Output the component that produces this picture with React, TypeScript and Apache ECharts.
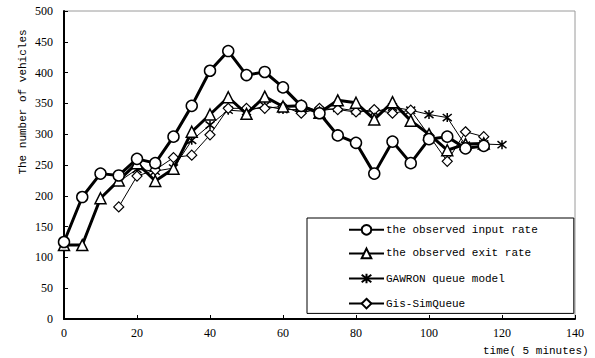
import React, { useEffect, useRef } from "react";
import * as echarts from "echarts";

const inputTime = [0, 5, 10, 15, 20, 25, 30, 35, 40, 45, 50, 55, 60, 65, 70, 75, 80, 85, 90, 95, 100, 105, 110, 115];
const inputRate = [125, 198, 236, 233, 260, 253, 296, 346, 403, 435, 396, 401, 376, 346, 334, 298, 286, 236, 288, 253, 292, 296, 277, 281];

const exitTime = [0, 5, 10, 15, 20, 25, 30, 35, 40, 45, 50, 55, 60, 65, 70, 75, 80, 85, 90, 95, 100, 105, 110, 115];
const exitRate = [120, 120, 196, 225, 253, 224, 244, 304, 332, 360, 333, 361, 345, 346, 335, 355, 351, 324, 352, 322, 300, 274, 284, 285];

const gawronTime = [15, 20, 25, 30, 35, 40, 45, 50, 55, 60, 65, 70, 75, 80, 85, 90, 95, 100, 105, 110, 115, 120];
const gawronModel = [223, 243, 240, 245, 290, 315, 339, 337, 346, 340, 340, 338, 342, 338, 336, 344, 339, 332, 327, 282, 284, 283];

const gisTime = [15, 20, 25, 30, 35, 40, 45, 50, 55, 60, 65, 70, 75, 80, 85, 90, 95, 100, 105, 110, 115];
const gisSimQueue = [182, 232, 242, 262, 266, 299, 342, 342, 342, 345, 334, 342, 340, 336, 340, 334, 339, 298, 256, 304, 296];

const seriesNames = [
  "the observed input rate",
  "the observed exit rate",
  "GAWRON queue model",
  "Gis-SimQueue",
];

const xTitle = "time( 5 minutes)";
const yTitle = "The number of vehicles";

const pairs = (xs: number[], ys: number[]) => xs.map((x, i) => [x, ys[i]]);

const ASTERISK = "path://M5,0L5,10M1,1L9,9M1,9L9,1";

export default function App() {
  const ref = useRef<HTMLDivElement>(null);
  useEffect(() => {
    if (!ref.current) return;
    const chart = echarts.init(ref.current, null, { renderer: "svg" });
    const tickFont = { fontFamily: "Liberation Serif", fontSize: 12, color: "#000" };
    chart.setOption({
      animation: false,
      backgroundColor: "#fff",
      grid: {
        left: 64,
        right: 20,
        top: 11,
        bottom: 39,
        show: true,
        borderColor: "#9a9a9a",
        borderWidth: 1,
      },
      xAxis: {
        type: "value",
        min: 0,
        max: 140,
        interval: 20,
        axisLine: { show: true, lineStyle: { color: "#000", width: 2 } },
        axisTick: { show: true, inside: true, length: 4, lineStyle: { color: "#000" } },
        axisLabel: { ...tickFont, margin: 8 },
        splitLine: { show: false },
      },
      yAxis: {
        type: "value",
        min: 0,
        max: 500,
        interval: 50,
        axisLine: { show: true, lineStyle: { color: "#000", width: 2 } },
        axisTick: { show: true, inside: true, length: 4, lineStyle: { color: "#000" } },
        axisLabel: { ...tickFont, margin: 11 },
        splitLine: { show: false },
      },
      legend: {
        orient: "vertical",
        left: 307,
        top: 218,
        padding: [6, 36, 4, 41],
        itemWidth: 35,
        itemHeight: 12,
        itemGap: 12,
        backgroundColor: "#fff",
        borderColor: "#000",
        borderWidth: 1,
        borderRadius: 0,
        textStyle: { fontFamily: "Liberation Mono", fontSize: 11, color: "#000", padding: [0, 0, 0, -3] },
        data: seriesNames,
      },
      graphic: [
        {
          type: "text",
          x: 483,
          y: 351,
          style: {
            text: xTitle,
            fontFamily: "Liberation Mono",
            fontSize: 11,
            fill: "#000",
            textAlign: "left",
            textVerticalAlign: "middle",
          },
        },
        {
          type: "text",
          x: 23,
          y: 102,
          rotation: Math.PI / 2,
          style: {
            text: yTitle,
            fontFamily: "Liberation Mono",
            fontSize: 11,
            fill: "#000",
            textAlign: "center",
            textVerticalAlign: "middle",
          },
        },
      ],
      series: [
        {
          name: seriesNames[0],
          type: "line",
          data: pairs(inputTime, inputRate),
          symbol: "circle",
          symbolSize: 11,
          lineStyle: { color: "#000", width: 3 },
          itemStyle: { color: "#fff", borderColor: "#000", borderWidth: 1.5 },
          z: 5,
        },
        {
          name: seriesNames[1],
          type: "line",
          data: pairs(exitTime, exitRate),
          symbol: "triangle",
          symbolSize: 11,
          lineStyle: { color: "#000", width: 3 },
          itemStyle: { color: "#fff", borderColor: "#000", borderWidth: 1.5 },
          z: 4,
        },
        {
          name: seriesNames[2],
          type: "line",
          data: pairs(gawronTime, gawronModel),
          symbol: ASTERISK,
          symbolSize: 9,
          lineStyle: { color: "#000", width: 1 },
          itemStyle: { color: "none", borderColor: "#000", borderWidth: 1.5 },
          z: 3,
        },
        {
          name: seriesNames[3],
          type: "line",
          data: pairs(gisTime, gisSimQueue),
          symbol: "diamond",
          symbolSize: 10,
          lineStyle: { color: "#000", width: 1 },
          itemStyle: { color: "#fff", borderColor: "#000", borderWidth: 1.2 },
          z: 3,
        },
      ],
    });
    return () => chart.dispose();
  }, []);
  return <div ref={ref} style={{ width: 595, height: 358, position: "absolute", left: 0, top: 0 }} />;
}
